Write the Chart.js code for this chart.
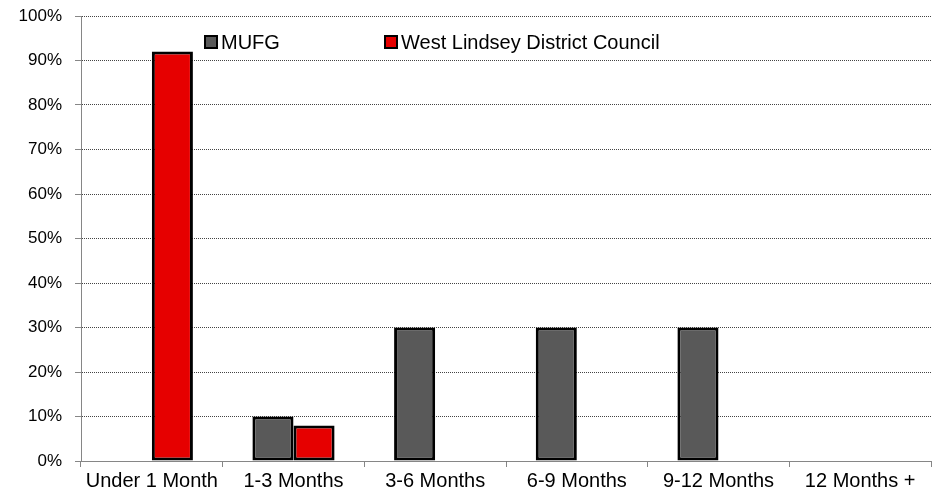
<!DOCTYPE html>
<html>
<head>
<meta charset="utf-8">
<script src="https://cdn.jsdelivr.net/npm/chart.js@4.4.0/dist/chart.umd.min.js"></script>
<style>
  html, body { margin: 0; padding: 0; background: #fff; }
  #wrap { width: 932px; height: 497px; }
</style>
</head>
<body>
<div id="wrap"><canvas id="barChart" width="932" height="497"></canvas></div>
<script>
// Data
const categories = ["Under 1 Month", "1-3 Months", "3-6 Months", "6-9 Months", "9-12 Months", "12 Months +"];
const mufgValues = [0, 10, 30, 30, 30, 0];
const councilValues = [92, 8, 0, 0, 0, 0];
const seriesNames = ["MUFG", "West Lindsey District Council"];
const yTicks = [0, 10, 20, 30, 40, 50, 60, 70, 80, 90, 100];

const FONT = "'Liberation Sans', Arial, sans-serif";

// legend drawn inside the plot, Excel style
const insideLegend = {
  id: "insideLegend",
  afterDraw(chart) {
    const ctx = chart.ctx;
    const area = chart.chartArea;
    const offsets = [124, 304];
    ctx.save();
    ctx.font = "20px " + FONT;
    ctx.textBaseline = "middle";
    ctx.textAlign = "left";
    chart.data.datasets.forEach((ds, i) => {
      const x = area.left + offsets[i];
      const y = area.top + 26;
      ctx.fillStyle = ds.backgroundColor;
      ctx.fillRect(x, y - 6, 12, 12);
      ctx.strokeStyle = "#000";
      ctx.lineWidth = 2;
      ctx.strokeRect(x, y - 6, 12, 12);
      ctx.fillStyle = "#000";
      ctx.fillText(ds.label, x + 16, y + 1);
    });
    ctx.restore();
  }
};

const ctx = document.getElementById("barChart").getContext("2d");
new Chart(ctx, {
  type: "bar",
  data: {
    labels: categories,
    datasets: [
      {
        label: seriesNames[0],
        data: mufgValues,
        backgroundColor: "#595959",
        borderColor: "#000",
        borderWidth: 3,
        borderSkipped: false,
      },
      {
        label: seriesNames[1],
        data: councilValues,
        backgroundColor: "#e60000",
        borderColor: "#000",
        borderWidth: 3,
        borderSkipped: false,
      },
    ],
  },
  options: {
    responsive: false,
    animation: false,
    layout: { padding: { top: 16, right: 1, left: 0, bottom: 0 } },
    datasets: { bar: { categoryPercentage: 0.58, barPercentage: 1 } },
    plugins: {
      legend: { display: false },
      tooltip: { enabled: false },
    },
    scales: {
      x: {
        afterFit(scale) {
          scale.height = 36;
          scale.paddingLeft = 0;
          scale.paddingRight = 0;
        },
        grid: { offset: true, drawOnChartArea: false, tickLength: 6, color: "#868686" },
        border: { color: "#868686", width: 1 },
        ticks: { color: "#000", font: { family: FONT, size: 20 }, padding: 2, maxRotation: 0, autoSkip: false },
      },
      y: {
        min: 0,
        max: 100,
        afterFit(scale) {
          scale.width = 81;
          scale.paddingTop = 0;
          scale.paddingBottom = 0;
        },
        afterBuildTicks(scale) { scale.ticks = yTicks.map(v => ({ value: v })); },
        grid: { color: "#444", lineWidth: 1, tickLength: 6, tickColor: "#868686" },
        border: { color: "#868686", width: 1, dash: [1, 1] },
        ticks: {
          color: "#000",
          font: { family: FONT, size: 17 },
          padding: 13,
          callback: v => v + "%",
        },
      },
    },
  },
  plugins: [insideLegend],
});
</script>
</body>
</html>
